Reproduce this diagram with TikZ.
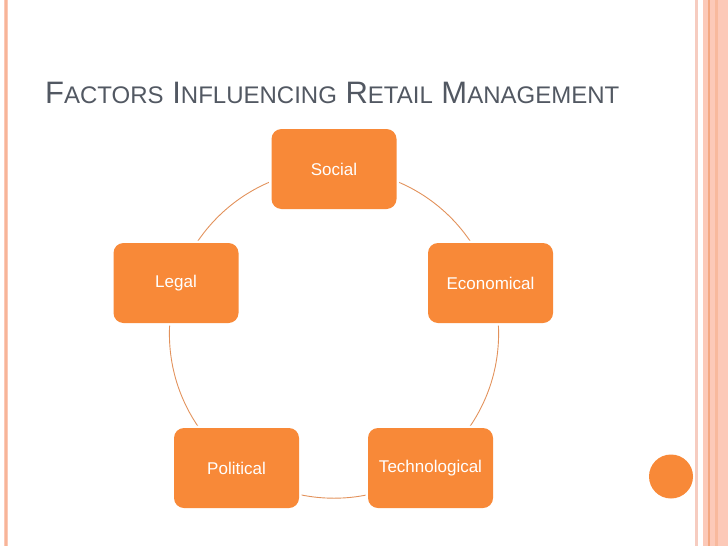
\documentclass[tikz,border=0pt]{standalone}
\usepackage{fontspec}
\setmainfont{Liberation Sans}
\definecolor{boxorange}{RGB}{248,137,56}
\definecolor{arcorange}{RGB}{226,146,92}
\definecolor{titlegray}{RGB}{82,88,98}
\definecolor{salmon}{RGB}{252,201,184}
\definecolor{salmondark}{RGB}{244,168,130}
\definecolor{pinkline}{RGB}{246,204,192}
\newcommand\bigsc[2]{{\fontsize{31}{31}\selectfont #1}{\fontsize{24}{24}\selectfont #2}}
\tikzset{
  factor/.style={rectangle, rounded corners=10pt, fill=boxorange,
    preaction={draw=white, line width=5pt},
    minimum width=125pt, minimum height=80pt, inner sep=0pt,
    text=white, font=\fontsize{17}{17}\selectfont},
  ring/.style={draw=arcorange, line width=0.9pt}
}
\begin{document}
\begin{tikzpicture}[x=1pt,y=-1pt]
\useasboundingbox (0,0) rectangle (728,546);
% borders
\fill[salmon] (4,0) rectangle (7.5,546);
\fill[salmondark!60!salmon] (5,0) rectangle (6.5,546);
\fill[pinkline] (695,0) rectangle (698,546);
\fill[salmon] (703,0) rectangle (728,546);
\fill[salmondark] (708,0) rectangle (710,546);
\fill[salmondark!50!salmon] (715,0) rectangle (717.5,546);
% title
\node[anchor=base west, inner sep=0pt, text=titlegray, font=\fontsize{31}{31}\selectfont] (title) at (45,103)
  {\bigsc{F}{ACTORS} \bigsc{I}{NFLUENCING} \bigsc{R}{ETAIL} \bigsc{M}{ANAGEMENT}};
% ring
\coordinate (ctr) at (334,333.6);
\draw[ring] (ctr) circle (164.6);
% boxes
\node[factor] (social) at (334,169) {Social};
\node[factor] (econ) at (490.5,283) {Economical};
\node[factor] (tech) at (430.5,468) {Technological};
\node[factor] (pol) at (236.5,468) {Political};
\node[factor] (legal) at (176,283) {Legal};
% dot
\fill[boxorange] (671,476.5) circle (22);
\end{tikzpicture}
\end{document}
